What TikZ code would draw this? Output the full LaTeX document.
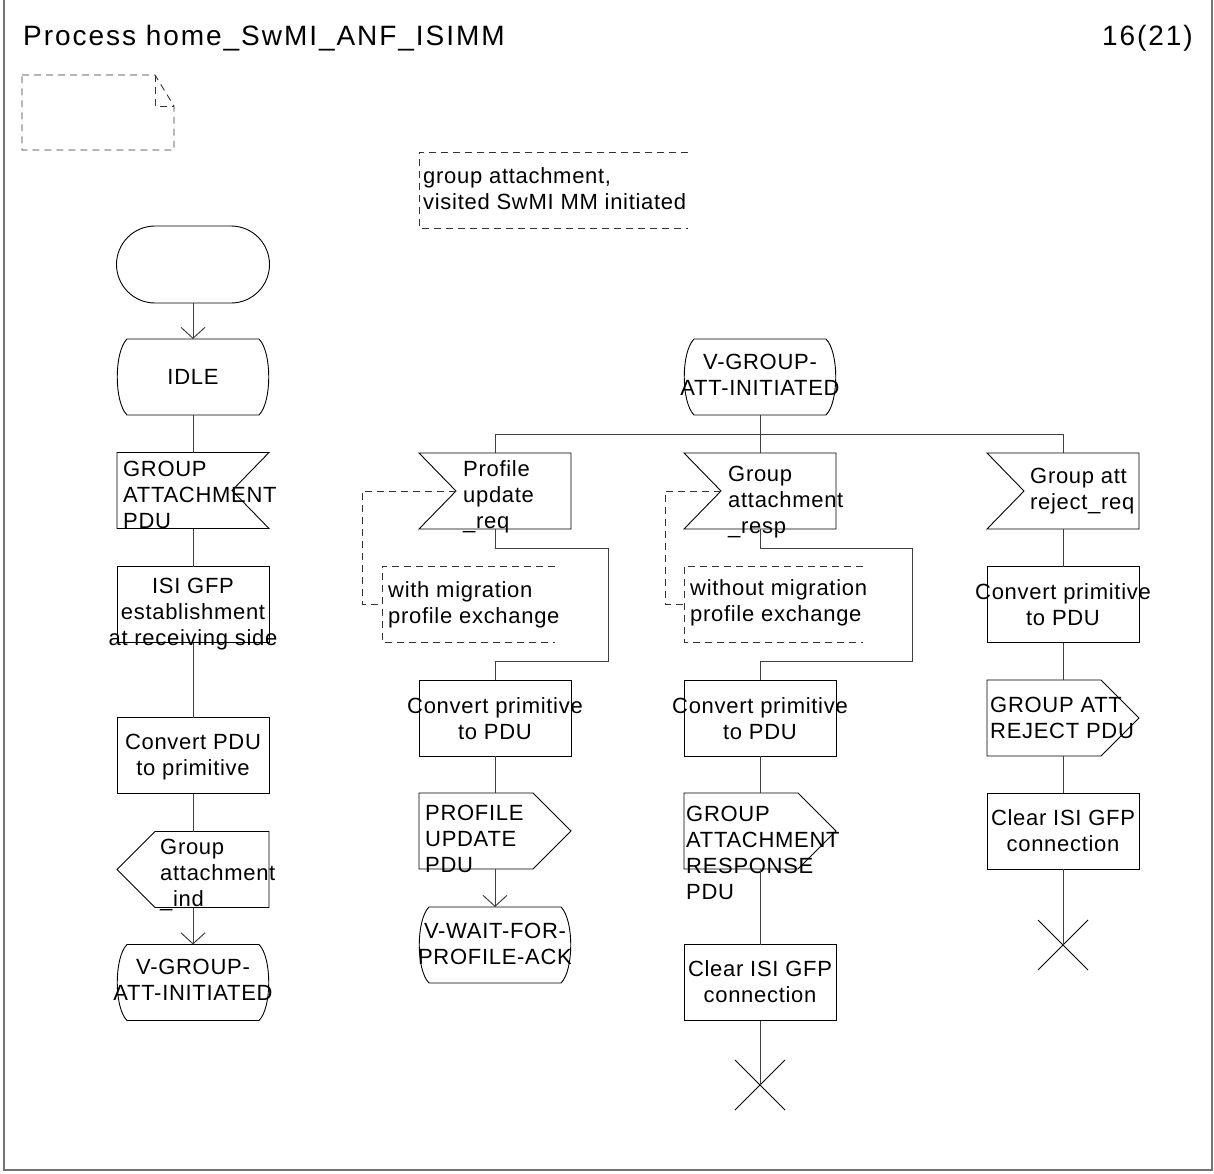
\documentclass[tikz,border=0pt]{standalone}
\usepackage{fontspec}
\setmainfont{Liberation Sans}[LetterSpace=3.2]
\newfontfamily\titlefam{Liberation Sans}[LetterSpace=7]
\usetikzlibrary{calc,arrows.meta,shapes.misc}

\newcommand\sdlfont{\fontsize{22}{26}\selectfont}

\tikzset{
 sym/.style={minimum width=152pt, minimum height=76pt, inner sep=0pt, outer sep=0pt},
 outl/.style={line width=0.9pt, draw=black},
 taskbox/.style={sym, draw=black, line width=0.9pt},
 lbl/.style={font=\sdlfont, inner sep=0pt, align=center},
 lbll/.style={font=\sdlfont, inner sep=0pt, align=left, anchor=west},
 flow/.style={line width=1pt, draw=black!75},
 arr/.style={flow, -{Straight Barb[length=11pt, width=24pt]}},
 cmt/.style={line width=0.9pt, dash pattern=on 7pt off 5pt, draw=black!80},
 cmtbox/.style={minimum height=76pt, inner sep=0pt, outer sep=0pt},
}

\newcommand\sdlstate[1]{%
 \draw[outl] ($(#1.north west)+(10,0)$) -- ($(#1.north east)+(-10,0)$)
 .. controls ($(#1.east)+(3,-25)$) and ($(#1.east)+(3,25)$) .. ($(#1.south east)+(-10,0)$)
 -- ($(#1.south west)+(10,0)$)
 .. controls ($(#1.west)+(-3,25)$) and ($(#1.west)+(-3,-25)$) .. cycle;}
\newcommand\sdlinR[1]{\draw[outl] (#1.north west) -- (#1.north east) -- ($(#1.east)+(-37,0)$) -- (#1.south east) -- (#1.south west) -- cycle;}
\newcommand\sdlinL[1]{\draw[outl] (#1.north west) -- (#1.north east) -- (#1.south east) -- (#1.south west) -- ($(#1.west)+(37,0)$) -- cycle;}
\newcommand\sdloutR[1]{\draw[outl] (#1.north west) -- ($(#1.north east)+(-38,0)$) -- (#1.east) -- ($(#1.south east)+(-38,0)$) -- (#1.south west) -- cycle;}
\newcommand\sdloutL[1]{\draw[outl] ($(#1.north west)+(38,0)$) -- (#1.north east) -- (#1.south east) -- ($(#1.south west)+(38,0)$) -- (#1.west) -- cycle;}
\newcommand\sdlcross[1]{\draw[outl] ($(#1)+(-25,-25)$) -- ($(#1)+(25,25)$) ($(#1)+(-25,25)$) -- ($(#1)+(25,-25)$);}
\newcommand\sdlcmt[1]{\draw[cmt] (#1.north east) -- (#1.north west) -- (#1.south west) -- (#1.south east);}

\begin{document}
\begin{tikzpicture}[x=1pt,y=-1pt]
\useasboundingbox (0,0) rectangle (1214,1173);
% frame
\draw[line width=2pt, draw=black!55] (4,-5) -- (4,1170) -- (1212,1170) -- (1212,-5);
% title
\node[anchor=base west, inner sep=0pt, font=\titlefam\fontsize{28}{32}\selectfont] (title) at (23,45) {Process home\_SwMI\_ANF\_ISIMM};
\node[anchor=base east, inner sep=0pt, font=\titlefam\fontsize{28}{32}\selectfont] (page) at (1193,45) {16(21)};
% page fold symbol
\draw[cmt] (22,75) -- (155,75) -- (174,106) -- (174,150) -- (22,150) -- cycle;
\draw[cmt] (155,75) -- (155,106) -- (174,106);
% top comment
\node[cmtbox, minimum width=269pt] (cm0) at (553.5,190) {};
\sdlcmt{cm0}
\node[lbll] (cm0t) at (423,189) {group attachment,\\visited SwMI MM initiated};

% ---------- left column ----------
\node[sym, rounded rectangle, minimum width=153pt, minimum height=77pt, outl] (start) at (193,264.5) {};
\node[sym] (idle) at (193,377) {};
\sdlstate{idle}
\node[lbl] (idlet) at (193,377) {IDLE};
\node[sym] (in1) at (193,490.5) {};
\sdlinR{in1}
\node[lbll] (in1t) at (123,495) {GROUP\\ATTACHMENT\\PDU};
\node[taskbox] (t1) at (193,604.5) {};
\node[lbl] (t1t) at (193,614) {ISI GFP\\establishment\\at receiving side};
\node[taskbox] (t2) at (193,755.5) {};
\node[lbl] (t2t) at (193,757.5) {Convert PDU\\to primitive};
\node[sym] (o1) at (193,869.5) {};
\sdloutL{o1}
\node[lbll] (o1t) at (160,875) {Group\\attachment\\\_ind};
\node[sym] (s1) at (193,982.5) {};
\sdlstate{s1}
\node[lbl] (s1t) at (193,980) {V-GROUP-\\ATT-INITIATED};

\draw[arr] (start) -- (idle);
\draw[flow] (idle) -- (in1);
\draw[flow] (in1) -- (t1);
\draw[flow] (t1) -- (t2);
\draw[flow] (t2) -- (o1);
\draw[arr] (o1) -- (s1);

% ---------- state V-GROUP-ATT-INITIATED ----------
\node[sym] (s2) at (760,377) {};
\sdlstate{s2}
\node[lbl] (s2t) at (760,375) {V-GROUP-\\ATT-INITIATED};
\coordinate (fork) at (760,434);
\coordinate (fL) at (495,434);
\coordinate (fR) at (1063,434);
\draw[flow] (s2) -- (fork);
\draw[flow] (fL) -- (fR);

% ---------- branch 1 ----------
\node[sym] (in2) at (495,491) {};
\sdlinL{in2}
\node[lbll] (in2t) at (463,497) {Profile\\update\\\_req};
\node[cmtbox, minimum width=173pt] (cm1) at (468.5,604) {};
\sdlcmt{cm1}
\node[lbll] (cm1t) at (388,605) {with migration\\profile exchange};
\node[taskbox] (c2) at (495,718) {};
\node[lbl] (c2t) at (495,719) {Convert primitive\\to PDU};
\node[sym] (o2) at (495,831) {};
\sdloutR{o2}
\node[lbll] (o2t) at (425,839) {PROFILE\\UPDATE\\PDU};
\node[sym] (s3) at (495,945) {};
\sdlstate{s3}
\node[lbl] (s3t) at (495,944) {V-WAIT-FOR-\\PROFILE-ACK};

\draw[flow] (fL) -- (in2);
\draw[flow] (in2.south) -- ++(0,19) -- ++(113,0) -- ++(0,113) -- ++(-113,0) -- (c2.north);
\draw[cmt] ($(in2.west)+(37,0)$) -- ++(-94,0) |- (cm1.west);
\draw[flow] (c2) -- (o2);
\draw[arr] (o2) -- (s3);

% ---------- branch 2 ----------
\node[sym] (in3) at (760,491) {};
\sdlinL{in3}
\node[lbll] (in3t) at (728,502) {Group\\attachment\\\_resp};
\node[cmtbox, minimum width=179pt] (cm2) at (773.5,604) {};
\sdlcmt{cm2}
\node[lbll] (cm2t) at (690,603) {without migration\\profile exchange};
\node[taskbox] (c3) at (760,718) {};
\node[lbl] (c3t) at (760,719) {Convert primitive\\to PDU};
\node[sym] (o3) at (760,831) {};
\sdloutR{o3}
\node[lbll] (o3t) at (686,853) {GROUP\\ATTACHMENT\\RESPONSE\\PDU};
\node[taskbox] (k1) at (760,982.5) {};
\node[lbl] (k1t) at (760,982) {Clear ISI GFP\\connection};
\coordinate (x1) at (760,1085);
\sdlcross{x1}

\draw[flow] (fork) -- (in3);
\draw[flow] (in3.south) -- ++(0,19) -- ++(152,0) -- ++(0,113) -- ++(-152,0) -- (c3.north);
\draw[cmt] ($(in3.west)+(37,0)$) -- ++(-56,0) |- (cm2.west);
\draw[flow] (c3) -- (o3);
\draw[flow] (o3) -- (k1);
\draw[flow] (k1) -- (x1);

% ---------- branch 3 ----------
\node[sym] (in4) at (1063,491) {};
\sdlinL{in4}
\node[lbll] (in4t) at (1030,491) {Group att\\reject\_req};
\node[taskbox] (c4) at (1063,604.5) {};
\node[lbl] (c4t) at (1063,605) {Convert primitive\\to PDU};
\node[sym] (o4) at (1063,718) {};
\sdloutR{o4}
\node[lbll] (o4t) at (990,718) {GROUP ATT\\REJECT PDU};
\node[taskbox] (k2) at (1063,831) {};
\node[lbl] (k2t) at (1063,831) {Clear ISI GFP\\connection};
\coordinate (x2) at (1063,945);
\sdlcross{x2}

\draw[flow] (fR) -- (in4);
\draw[flow] (in4) -- (c4);
\draw[flow] (c4) -- (o4);
\draw[flow] (o4) -- (k2);
\draw[flow] (k2) -- (x2);
\end{tikzpicture}
\end{document}
